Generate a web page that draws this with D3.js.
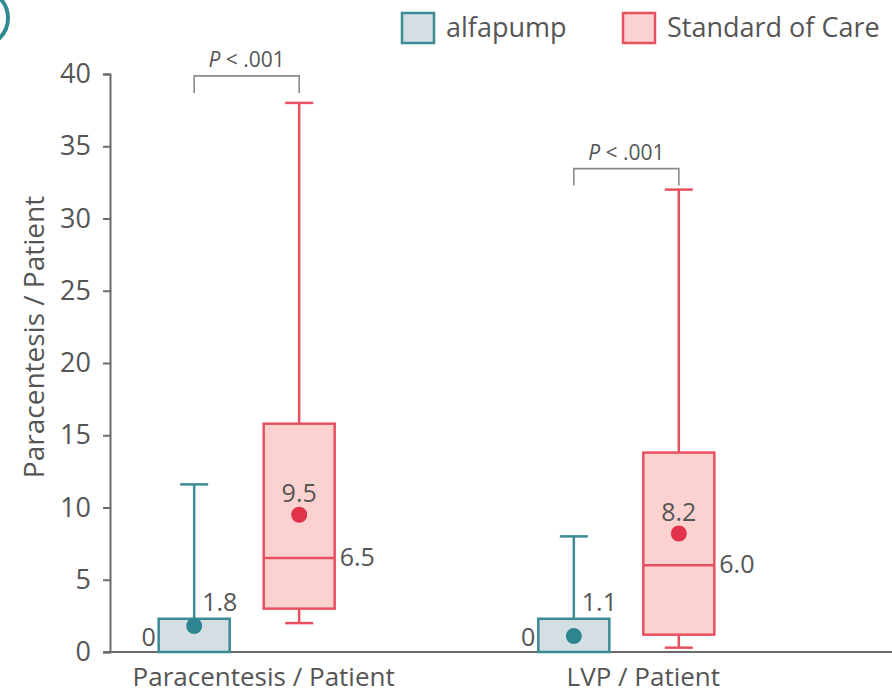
<!DOCTYPE html>
<html>
<head>
<meta charset="utf-8">
<script src="https://cdn.jsdelivr.net/npm/d3@7"></script>
<style>
	body { margin: 0; background: #fff; }
	text { font-family: "Open Sans", "Noto Sans", sans-serif; fill: #555; }
</style>
</head>
<body>
<div id="chart-area"></div>
<script>
var categories = ["Paracentesis / Patient", "LVP / Patient"];
var series = ["alfapump", "Standard of Care"];

// per series, one value per category
var minVals = [[0, 0], [2.0, 0.3]];
var q1Vals = [[0, 0], [3.0, 1.2]];
var medianVals = [[0, 0], [6.5, 6.0]];
var q3Vals = [[2.3, 2.3], [15.8, 13.8]];
var maxVals = [[11.6, 8.0], [38, 32]];
var meanVals = [[1.8, 1.1], [9.5, 8.2]];

var pLabels = ["P < .001", "P < .001"];
var yTicks = [0, 5, 10, 15, 20, 25, 30, 35, 40];

var svgWidth = 892;
var svgHeight = 696;

var strokeColors = ["#3b8b95", "#e8505f"];
var fillColors = ["#d3dfe3", "#fcd2d1"];
var dotColors = ["#2c8590", "#e2334b"];

var canvas = d3.select("#chart-area").append("svg")
	.attr("width", svgWidth)
	.attr("height", svgHeight);

var yScale = d3.scaleLinear()
	.domain([0, 40])
	.range([652, 74]);

var xScale = d3.scalePoint()
	.domain(categories)
	.range([110, 763])
	.padding(0.36);

var offset = d3.scalePoint()
	.domain(series)
	.range([-52.5, 52.5]);

var boxWidth = 71;
var capWidth = 28;

// panel letter circle, cut off at the corner
canvas.append("circle")
	.attr("cx", -20)
	.attr("cy", 18)
	.attr("r", 28)
	.attr("fill", "none")
	.attr("stroke", "#2f8a93")
	.attr("stroke-width", 4);

// y axis
var yAxis = d3.axisLeft(yScale)
	.tickValues(yTicks)
	.tickSize(7)
	.tickPadding(12);

var yAxisGroup = canvas.append("g")
	.attr("transform", "translate(110,0)")
	.call(yAxis);

yAxisGroup.select(".domain").attr("stroke", "#6b6b6b").attr("stroke-width", 2);
yAxisGroup.selectAll(".tick line").attr("stroke", "#6b6b6b").attr("stroke-width", 2);
yAxisGroup.selectAll(".tick text")
	.attr("font-size", 27)
	.attr("font-family", "'Open Sans', sans-serif")
	.attr("fill", "#555");

// baseline
canvas.append("line")
	.attr("x1", 104)
	.attr("x2", svgWidth)
	.attr("y1", yScale(0))
	.attr("y2", yScale(0))
	.attr("stroke", "#6b6b6b")
	.attr("stroke-width", 2);

canvas.append("text")
	.attr("transform", "rotate(-90)")
	.attr("x", -337)
	.attr("y", 44)
	.attr("text-anchor", "middle")
	.attr("font-size", 28)
	.text("Paracentesis / Patient");

// category labels
canvas.selectAll(".cat-label")
	.data(categories)
	.enter()
	.append("text")
	.attr("class", "cat-label")
	.attr("x", d => xScale(d) + 17)
	.attr("y", 686)
	.attr("text-anchor", "middle")
	.attr("font-size", 26)
	.text(d => d);

function fmt(v) {
	return v === 0 ? "0" : v.toFixed(1);
}

series.forEach((s, si) => {
	categories.forEach((c, ci) => {
		var cx = xScale(c) + offset(s);
		var g = canvas.append("g");
		var col = strokeColors[si];

		// lower whisker
		if (minVals[si][ci] < q1Vals[si][ci]) {
			g.append("line")
				.attr("x1", cx).attr("x2", cx)
				.attr("y1", yScale(q1Vals[si][ci]))
				.attr("y2", yScale(minVals[si][ci]))
				.attr("stroke", col).attr("stroke-width", 2.5);
			g.append("line")
				.attr("x1", cx - capWidth / 2).attr("x2", cx + capWidth / 2)
				.attr("y1", yScale(minVals[si][ci]))
				.attr("y2", yScale(minVals[si][ci]))
				.attr("stroke", col).attr("stroke-width", 2.5);
		}

		// upper whisker
		g.append("line")
			.attr("x1", cx).attr("x2", cx)
			.attr("y1", yScale(q3Vals[si][ci]))
			.attr("y2", yScale(maxVals[si][ci]))
			.attr("stroke", col).attr("stroke-width", 2.5);
		g.append("line")
			.attr("x1", cx - capWidth / 2).attr("x2", cx + capWidth / 2)
			.attr("y1", yScale(maxVals[si][ci]))
			.attr("y2", yScale(maxVals[si][ci]))
			.attr("stroke", col).attr("stroke-width", 2.5);

		// box
		g.append("rect")
			.attr("x", cx - boxWidth / 2)
			.attr("y", yScale(q3Vals[si][ci]))
			.attr("width", boxWidth)
			.attr("height", yScale(q1Vals[si][ci]) - yScale(q3Vals[si][ci]))
			.attr("fill", fillColors[si])
			.attr("stroke", col)
			.attr("stroke-width", 2.5);

		// median
		if (medianVals[si][ci] > q1Vals[si][ci]) {
			g.append("line")
				.attr("x1", cx - boxWidth / 2).attr("x2", cx + boxWidth / 2)
				.attr("y1", yScale(medianVals[si][ci]))
				.attr("y2", yScale(medianVals[si][ci]))
				.attr("stroke", col).attr("stroke-width", 2.5);
		}

		// mean dot
		g.append("circle")
			.attr("cx", cx)
			.attr("cy", yScale(meanVals[si][ci]))
			.attr("r", 8)
			.attr("fill", dotColors[si]);

		if (si === 0) {
			g.append("text")
				.attr("x", cx - boxWidth / 2 - 3)
				.attr("y", yScale(medianVals[si][ci]) - 6)
				.attr("text-anchor", "end")
				.attr("font-size", 25)
				.text(fmt(medianVals[si][ci]));
			g.append("text")
				.attr("x", cx + 8)
				.attr("y", yScale(q3Vals[si][ci]) - 8)
				.attr("font-size", 25)
				.text(fmt(meanVals[si][ci]));
		} else {
			g.append("text")
				.attr("x", cx)
				.attr("y", yScale(meanVals[si][ci]) - 13)
				.attr("text-anchor", "middle")
				.attr("font-size", 25)
				.text(fmt(meanVals[si][ci]));
			g.append("text")
				.attr("x", cx + boxWidth / 2 + 5)
				.attr("y", yScale(medianVals[si][ci]) + 8)
				.attr("font-size", 25)
				.text(fmt(medianVals[si][ci]));
		}
	});
});

// significance brackets
categories.forEach((c, ci) => {
	var x1 = xScale(c) + offset(series[0]);
	var x2 = xScale(c) + offset(series[1]);
	var top = yScale(maxVals[1][ci]) - (ci === 0 ? 27 : 21);
	canvas.append("path")
		.attr("d", "M" + x1 + "," + (top + 17) + "V" + top + "H" + x2 + "V" + (top + 17))
		.attr("fill", "none")
		.attr("stroke", "#8a8a8a")
		.attr("stroke-width", 1.6);
	var t = canvas.append("text")
		.attr("x", (x1 + x2) / 2)
		.attr("y", top - 9)
		.attr("text-anchor", "middle")
		.attr("font-size", 21);
	t.append("tspan").attr("font-style", "italic").text(pLabels[ci].slice(0, 1));
	t.append("tspan").text(pLabels[ci].slice(1));
});

// legend
var legend = canvas.append("g");
var legendX = [402, 623];
series.forEach((s, i) => {
	legend.append("rect")
		.attr("x", legendX[i])
		.attr("y", 13)
		.attr("width", 32)
		.attr("height", 30)
		.attr("fill", fillColors[i])
		.attr("stroke", strokeColors[i])
		.attr("stroke-width", 2.5);
	legend.append("text")
		.attr("x", legendX[i] + 44)
		.attr("y", 37)
		.attr("font-size", 27)
		.text(s);
});
</script>
</body>
</html>
